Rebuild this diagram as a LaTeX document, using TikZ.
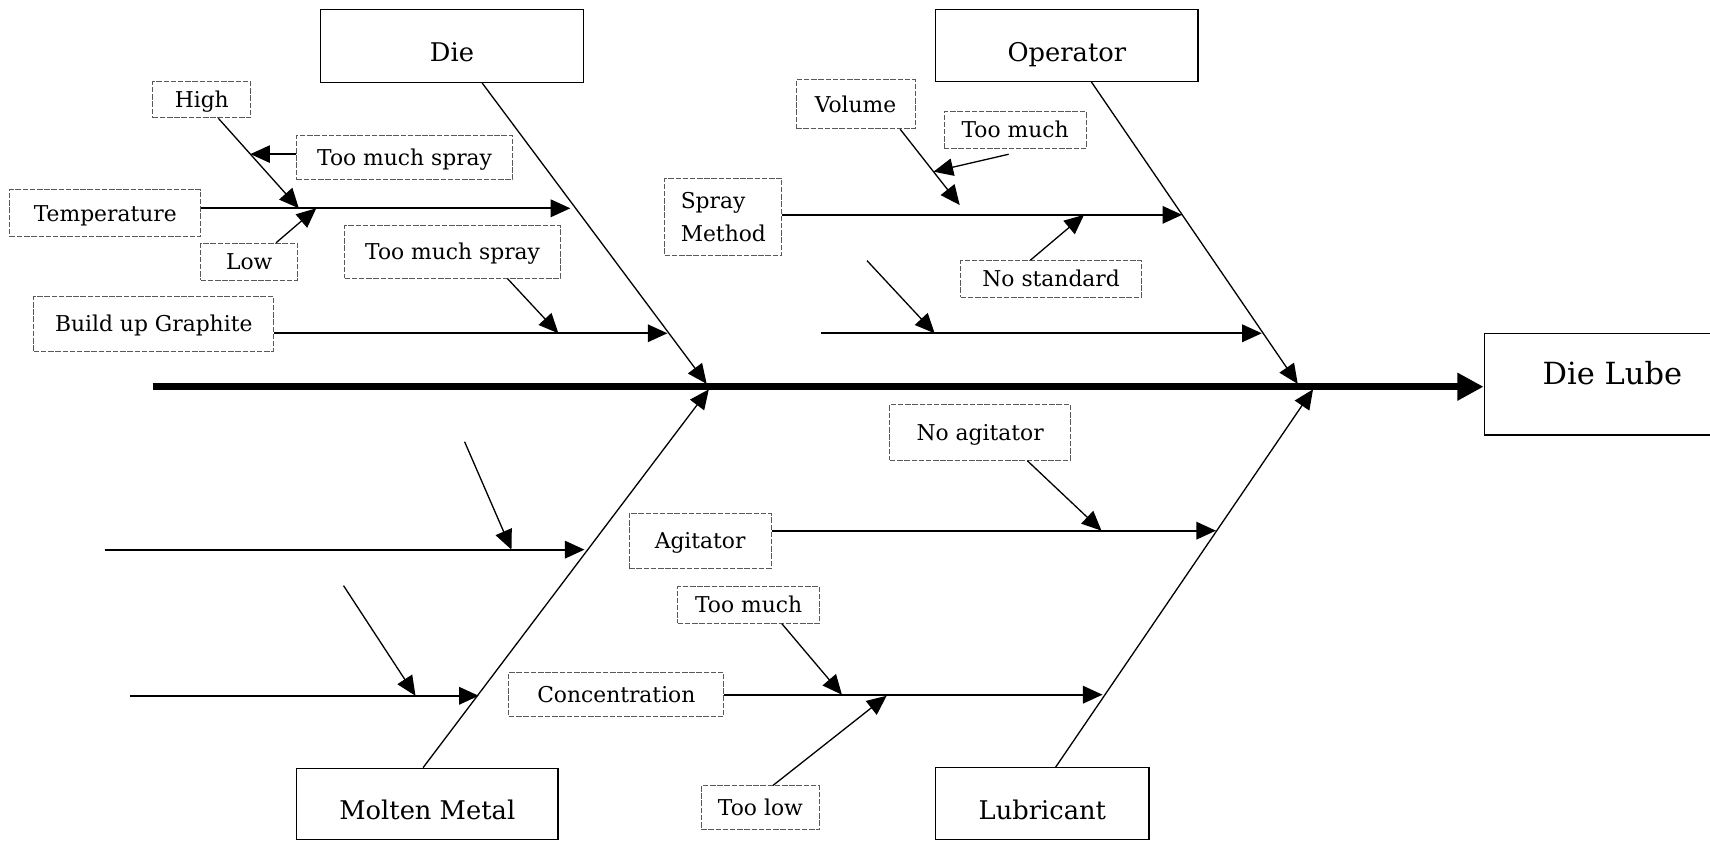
\documentclass[tikz,border=0pt]{standalone}
\usepackage{fontspec}
\setmainfont{DejaVu Serif}
\usetikzlibrary{arrows.meta,calc}
\newcommand\causefont{\fontsize{10pt}{15pt}\selectfont}
\newcommand\catfont{\fontsize{11.8pt}{14pt}\selectfont}
\newcommand\lubefont{\fontsize{14pt}{17pt}\selectfont}
\begin{document}
\begin{tikzpicture}[x=0.5pt,y=-0.5pt,
  cat/.style={draw,line width=0.6pt,font=\catfont,inner sep=0pt,text height=14.5pt,text depth=0pt},
  lbl/.style={draw=black!65,line width=0.45pt,dash pattern=on 2.5pt off 0.8pt,font=\causefont,inner sep=0pt},
  cbox/.style={lbl,text height=7.3pt,text depth=0pt},
  tip/.style={-{Triangle[length=9pt,width=8pt]}},
  cause/.style={tip,line width=0.9pt},
  sub/.style={tip,line width=0.6pt},
  bone/.style={tip,line width=0.6pt},
  spine/.style={line width=3pt,-{Triangle[length=12pt,width=12pt]}}]

\useasboundingbox (0,0) rectangle (1568,771);
\clip (0,0) rectangle (1568,771);

% category boxes
\node[cat,minimum width=120.5pt,minimum height=33.25pt] (die) at (414.5,42.25) {Die};
\node[cat,minimum width=120.25pt,minimum height=32.75pt] (oper) at (978.25,41.75) {Operator};
\node[cat,minimum width=119.8pt,minimum height=32.75pt] (molten) at (391.8,737.25) {Molten Metal};
\node[cat,minimum width=97.8pt,minimum height=33pt] (lubr) at (955.8,737) {Lubricant};
\node[draw,line width=0.6pt,font=\lubefont,inner sep=0pt,text depth=10.8pt,minimum width=117.5pt,minimum height=46.7pt] (lube) at (1478.5,352.3) {Die Lube};

% cause label boxes
\node[cbox,minimum width=45pt,minimum height=16.5pt] (high) at (185,91.5) {High};
\node[cbox,minimum width=99pt,minimum height=20.5pt] (tms1) at (371,144.5) {Too much spray};
\node[cbox,minimum width=87.5pt,minimum height=21.5pt] (temp) at (96.5,195.5) {Temperature};
\node[cbox,minimum width=44.5pt,minimum height=17pt] (low) at (228.5,240) {Low};
\node[cbox,minimum width=99pt,minimum height=24pt] (tms2) at (415,231) {Too much spray};
\node[cbox,minimum width=110pt,minimum height=25pt] (bug) at (141,297) {Build up Graphite};
\node[cbox,minimum width=54.5pt,minimum height=22.5pt] (vol) at (784.5,95.5) {Volume};
\node[cbox,minimum width=65.2pt,minimum height=16.8pt] (tmu) at (930.8,119.2) {Too much};
\node[lbl,align=left,minimum width=53.75pt,minimum height=35.25pt] (spray) at (663.25,198.75) {Spray\\Method};
\node[cbox,minimum width=82.85pt,minimum height=16.75pt] (nostd) at (963.85,255.75) {No standard};
\node[cbox,minimum width=82.75pt,minimum height=25.5pt] (noag) at (898.75,396.5) {No agitator};
\node[cbox,minimum width=65pt,minimum height=25.2pt] (agit) at (642,495.8) {Agitator};
\node[cbox,minimum width=65pt,minimum height=16.75pt] (tml) at (686.45,554.75) {Too much};
\node[cbox,minimum width=98.45pt,minimum height=20.25pt] (conc) at (565.15,636.75) {Concentration};
\node[cbox,minimum width=54.25pt,minimum height=20.15pt] (toolow) at (697.25,740.85) {Too low};

% spine
\coordinate (sp0) at (140,354.6);
\draw[spine] (sp0) -- (sp0 -| lube.west);

% main bones
\coordinate (dieE) at (648,352);
\coordinate (operE) at (1190,352);
\coordinate (moltE) at (650,357);
\coordinate (lubE) at (1204,357);
\draw[bone] ($(die.south west)!0.614!(die.south east)$) -- (dieE);
\draw[bone] ($(oper.south west)!0.593!(oper.south east)$) -- (operE);
\draw[bone] ($(molten.north west)!0.484!(molten.north east)$) -- (moltE);
\draw[bone] ($(lubr.north west)!0.562!(lubr.north east)$) -- (lubE);

% Die causes
\coordinate (jtemp) at (523,191);
\coordinate (jhigh) at (274,191);
\coordinate (jlow) at (290,191);
\coordinate (hs) at ($(high.south west)!0.667!(high.south east)$);
\coordinate (jts) at ($(hs)!0.398!(jhigh)$);
\draw[cause] (temp.east |- jtemp) -- (jtemp);
\draw[sub] (hs) -- (jhigh);
\draw[sub] (tms1.west |- jts) -- (jts);
\draw[sub] ($(low.north west)!0.775!(low.north east)$) -- (jlow);
\coordinate (jbug) at (612,305.6);
\coordinate (jtms2) at (512,305.6);
\draw[cause] (bug.east |- jbug) -- (jbug);
\draw[sub] ($(tms2.south west)!0.753!(tms2.south east)$) -- (jtms2);

% Operator causes
\coordinate (jspray) at (1084,197);
\coordinate (jvol) at (880,188);
\coordinate (vs) at ($(vol.south west)!0.872!(vol.south east)$);
\coordinate (jtmu) at ($(vs)!0.56!(jvol)$);
\coordinate (jnostd) at (994,197);
\draw[cause] (spray.east |- jspray) -- (jspray);
\draw[sub] (vs) -- (jvol);
\draw[sub] ($(tmu.south west)!0.455!(tmu.south east)+(0,5)$) -- (jtmu);
\draw[sub] ($(nostd.north west)!0.386!(nostd.north east)$) -- (jnostd);
\coordinate (ul0) at (753,305.6);
\coordinate (jul) at (1157,305.6);
\coordinate (ua0) at (795,239);
\coordinate (jua) at (857,305.6);
\draw[cause] (ul0) -- (jul);
\draw[sub] (ua0) -- (jua);

% Molten Metal causes
\coordinate (m1) at (96,504);
\coordinate (jm1) at (536,504);
\coordinate (ma1) at (426,405);
\coordinate (jma1) at (469,504);
\coordinate (m2) at (119,638);
\coordinate (jm2) at (439,638);
\coordinate (ma2) at (315,537);
\coordinate (jma2) at (381,638);
\draw[cause] (m1) -- (jm1);
\draw[sub] (ma1) -- (jma1);
\draw[cause] (m2) -- (jm2);
\draw[sub] (ma2) -- (jma2);

% Lubricant causes
\coordinate (jagit) at (1115,486.6);
\coordinate (jnoag) at (1010,486.6);
\coordinate (jconc) at (1011,637);
\coordinate (jtml) at (772,637);
\coordinate (jtl) at (813,638);
\draw[cause] (agit.east |- jagit) -- (jagit);
\draw[sub] ($(noag.south west)!0.76!(noag.south east)$) -- (jnoag);
\draw[cause] (conc.east |- jconc) -- (jconc);
\draw[sub] ($(tml.south west)!0.733!(tml.south east)$) -- (jtml);
\draw[sub] ($(toolow.north west)!0.605!(toolow.north east)$) -- (jtl);
\end{tikzpicture}
\end{document}
